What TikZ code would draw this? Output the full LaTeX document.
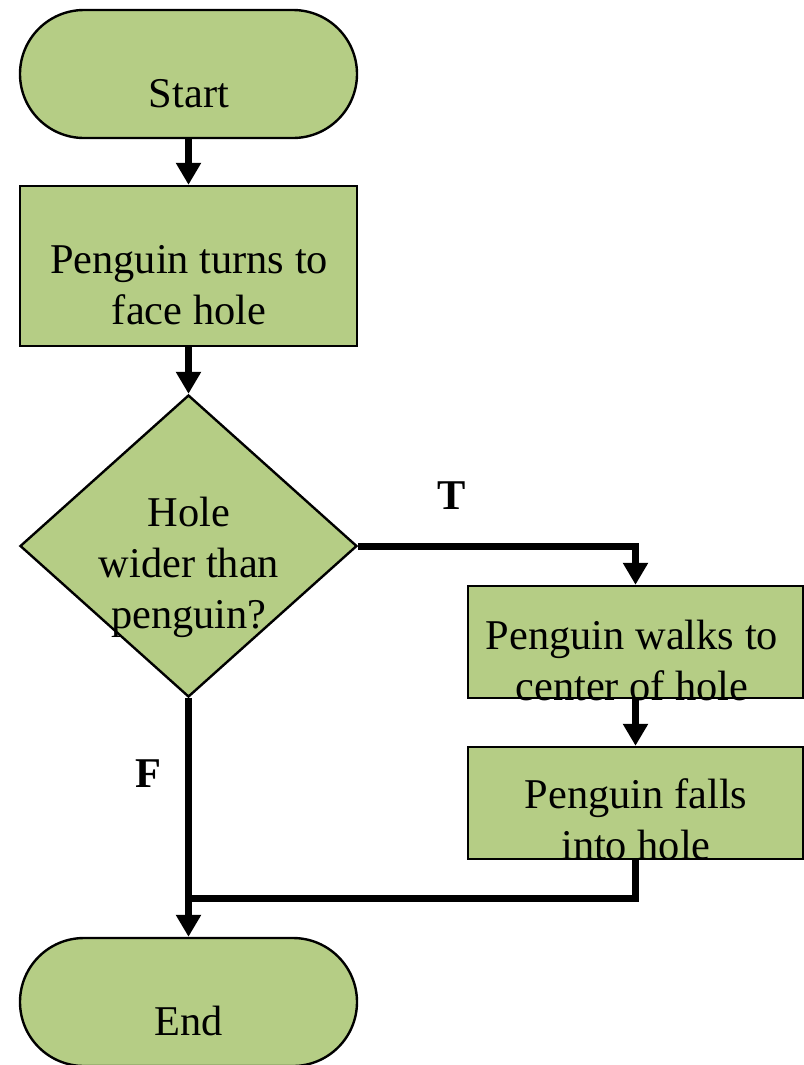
\documentclass[tikz,border=0pt]{standalone}
\usepackage{fontspec}
\setmainfont{Liberation Serif}
\usetikzlibrary{arrows.meta,shapes.geometric}
\definecolor{boxgreen}{RGB}{181,205,133}
\tikzset{
  shapebase/.style={draw=black, line width=1.8pt, fill=boxgreen, inner sep=0pt},
  terminal/.style={shapebase, rectangle, rounded corners=48pt,
                   minimum width=252.75pt, minimum height=96pt},
  process/.style={shapebase, rectangle, minimum height=84pt, minimum width=251.25pt},
  decision/.style={shapebase, diamond, minimum width=252.75pt, minimum height=226.5pt},
  label/.style={inner sep=0pt, anchor=base,
                font=\fontsize{31.8pt}{38.25pt}\selectfont},
  flag/.style={label, font=\fontsize{31.8pt}{38.25pt}\selectfont\bfseries},
  flow/.style={line width=5.25pt, line join=miter,
               -{Triangle[width=18pt,length=16.5pt]}},
  flowplain/.style={line width=5.25pt, line join=miter}
}
\newcommand{\lines}[1]{\begin{tabular}[t]{@{}c@{}}#1\end{tabular}}
\begin{document}
\begin{tikzpicture}[x=0.75pt,y=-0.75pt]
\useasboundingbox (0,0) rectangle (804,1065);

% shapes
\node[terminal] (start) at (188.5,74) {};
\node[process, minimum height=120pt, minimum width=252.75pt] (turn) at (188.5,266) {};
\node[decision] (test) at (188.5,546) {};
\node[process] (walk) at (635.5,642) {};
\node[process] (fall) at (635.5,803) {};
\node[terminal] (stop) at (188.5,1002) {};
\coordinate (join) at (188.5,898);

% connectors
\draw[flow] (start.south) -- (turn.north);
\draw[flow] (turn.south) -- (test.north);
\draw[flow] (test.east) -| (walk.north);
\draw[flow] (walk.south) -- (fall.north);
\draw[flowplain] (fall.south) |- (join);
\draw[flow] (test.south) -- (stop.north);

% texts
\node[label] (tstart) at (189,107) {Start};
\node[label] (tturn) at (189,273) {\lines{Penguin turns to\\face hole}};
\node[label] (ttest) at (189,526) {\lines{Hole\\wider than\\penguin?}};
\node[label] (twalk) at (632,649) {\lines{Penguin walks to\\center of hole}};
\node[label] (tfall) at (636,808) {\lines{Penguin falls\\into hole}};
\node[label] (tstop) at (189,1035) {End};
\node[flag] (ttrue) at (452,509) {T};
\node[flag] (tfalse) at (148,787) {F};
\end{tikzpicture}
\end{document}
